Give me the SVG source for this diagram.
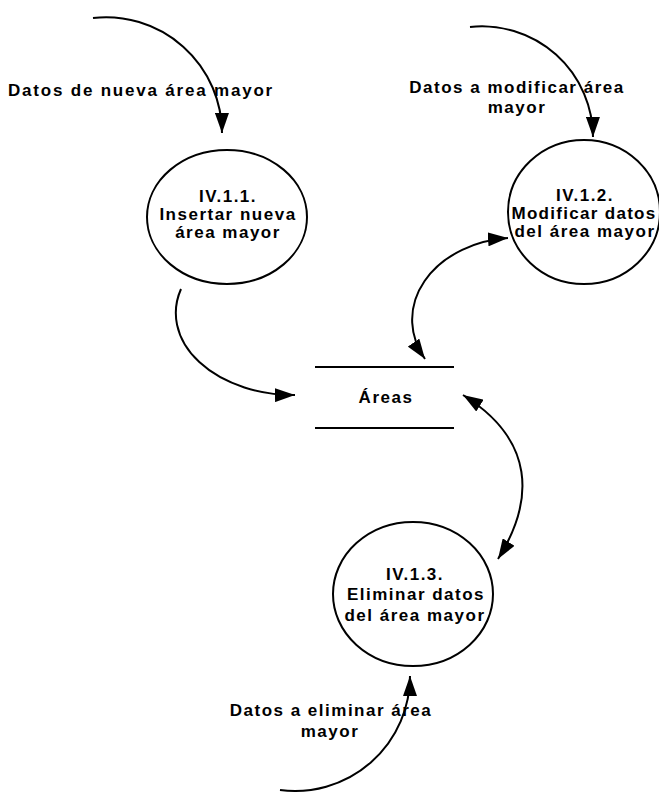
<svg xmlns="http://www.w3.org/2000/svg" width="659" height="792" viewBox="0 0 659 792">
  <style>
    .bg { fill: #ffffff; }
    .proc { fill: #ffffff; stroke: #000000; stroke-width: 2; }
    .store { stroke: #000000; stroke-width: 2; fill: none; }
    .flow { fill: none; stroke: #000000; stroke-width: 2; }
    .lbl { font-family: "Liberation Sans", Arial, sans-serif; font-weight: bold; font-size: 17px; letter-spacing: 1.5px; fill: #000000; text-anchor: middle; }
  </style>
  <defs>
    <marker id="head" viewBox="0 0 20 14" refX="20" refY="7" markerWidth="20" markerHeight="14" markerUnits="userSpaceOnUse" orient="auto-start-reverse">
      <path d="M0,0 L20,7 L0,14 z" fill="#000000"/>
    </marker>
  </defs>

  <rect class="bg" x="0" y="0" width="659" height="792"/>

  <!-- data flows -->
  <g id="flows">
    <path id="f-in-insert" class="flow" d="M93 18 A116 116 0 0 1 222 133" marker-end="url(#head)"/>
    <path id="f-in-modify" class="flow" d="M470 27 A111 111 0 0 1 593 137" marker-end="url(#head)"/>
    <path id="f-insert-store" class="flow" d="M181 289 A118 82 0 0 0 295 395" marker-end="url(#head)"/>
    <path id="f-modify-store" class="flow" d="M508 238 A105 82 0 0 0 425 359" marker-start="url(#head)" marker-end="url(#head)"/>
    <path id="f-store-delete" class="flow" d="M463 395 C535 440 535 500 498 559" marker-start="url(#head)" marker-end="url(#head)"/>
    <path id="f-in-delete" class="flow" d="M280 790 A115 115 0 0 0 410 676" marker-end="url(#head)"/>
  </g>

  <!-- flow labels -->
  <g id="labels">
    <text class="lbl" x="141" y="96" style="letter-spacing:1.8px">Datos de nueva área mayor</text>
    <text class="lbl" x="517" y="93">Datos a modificar área</text>
    <text class="lbl" x="517" y="113">mayor</text>
    <text class="lbl" x="331" y="716">Datos a eliminar área</text>
    <text class="lbl" x="330" y="737">mayor</text>
  </g>

  <!-- processes -->
  <g id="p-iv-1-1">
    <ellipse class="proc" cx="227" cy="217" rx="80" ry="67"/>
    <text class="lbl" x="228" y="202">IV.1.1.</text>
    <text class="lbl" x="228" y="220">Insertar nueva</text>
    <text class="lbl" x="228" y="238">área mayor</text>
  </g>

  <g id="p-iv-1-2">
    <ellipse class="proc" cx="584" cy="212" rx="76" ry="72"/>
    <text class="lbl" x="585" y="201">IV.1.2.</text>
    <text class="lbl" x="584" y="219" style="letter-spacing:1.3px">Modificar datos</text>
    <text class="lbl" x="585" y="237">del área mayor</text>
  </g>

  <g id="p-iv-1-3">
    <ellipse class="proc" cx="413" cy="594" rx="80" ry="72"/>
    <text class="lbl" x="415" y="580">IV.1.3.</text>
    <text class="lbl" x="416" y="600">Eliminar datos</text>
    <text class="lbl" x="415" y="621">del área mayor</text>
  </g>

  <!-- data store -->
  <g id="ds-areas">
    <line class="store" x1="315" y1="367" x2="454" y2="367"/>
    <line class="store" x1="315" y1="428" x2="454" y2="428"/>
    <text class="lbl" x="386" y="403">Áreas</text>
  </g>
</svg>
